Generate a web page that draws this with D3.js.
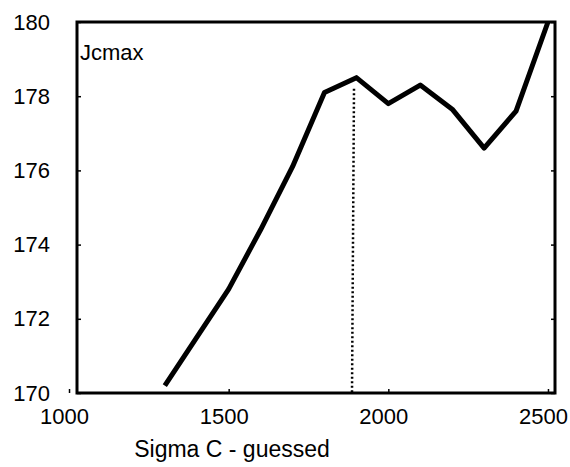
<!DOCTYPE html>
<html>
<head>
<meta charset="utf-8">
<script src="https://cdn.jsdelivr.net/npm/d3@7"></script>
<style>
  html, body { margin: 0; padding: 0; background: #fff; }
  svg text { font-family: Arial, "Liberation Sans", sans-serif; fill: #000; }
</style>
</head>
<body>
<div id="chart"></div>
<script>
// Sigma C guesses and the resulting Jcmax
const sigmaC = [1300, 1400, 1500, 1600, 1700, 1800, 1900, 2000, 2100, 2200, 2300, 2400, 2500];
const jcmax = [170.2, 171.5, 172.8, 174.4, 176.1, 178.1, 178.5, 177.8, 178.3, 177.65, 176.6, 177.6, 180.0];
const xTicks = [1000, 1500, 2000, 2500];
const yTicks = [170, 172, 174, 176, 178, 180];
// best guess marker
const bestSigma = [1900];
const bestTop = 178.2;

const width = 570, height = 467;
const frame = { left: 77, top: 22, right: 555, bottom: 393 };

const svg = d3.select('#chart').append('svg')
    .attr('width', width)
    .attr('height', height);

const x = d3.scaleLinear()
    .domain([1025, 2522])
    .range([frame.left, frame.right]);

const y = d3.scaleLinear()
    .domain([170, 180])
    .range([frame.bottom, frame.top]);

// x axis, ticks pointing inward
const xAxis = svg.append('g')
    .attr('transform', `translate(0,${frame.bottom})`)
    .call(d3.axisBottom(x).tickValues(xTicks).tickFormat(d3.format('d'))
        .tickSizeInner(-4).tickSizeOuter(0).tickPadding(15));
xAxis.select('.domain').remove();
xAxis.selectAll('line').attr('stroke', '#000').attr('stroke-width', 1.5);
xAxis.selectAll('text')
    .attr('dx', -5)
    .style('font-size', '22px');

// y axis
const yAxis = svg.append('g')
    .attr('transform', `translate(${frame.left},0)`)
    .call(d3.axisLeft(y).tickValues(yTicks).tickSizeInner(-4).tickSizeOuter(0).tickPadding(27));
yAxis.select('.domain').remove();
yAxis.selectAll('line').attr('stroke', '#000').attr('stroke-width', 1.5);
yAxis.selectAll('text').style('font-size', '22px');

// inward ticks on the right side too
svg.append('g')
    .attr('transform', `translate(${frame.right},0)`)
    .call(d3.axisRight(y).tickValues(yTicks).tickSizeInner(-4).tickSizeOuter(0).tickFormat(''))
    .call(g => g.select('.domain').remove())
    .selectAll('line').attr('stroke', '#000').attr('stroke-width', 1.5);

// dotted marker at the best guess
svg.append('g')
    .selectAll('line')
    .data(bestSigma)
    .join('line')
    .attr('x1', d => Math.round(x(d)) - 2)
    .attr('x2', d => Math.round(x(d)) - 4)
    .attr('y1', y(bestTop))
    .attr('y2', y(170))
    .attr('stroke', '#000')
    .attr('stroke-width', 2.5)
    .attr('stroke-dasharray', '2,2.5');

// main line
const line = d3.line()
    .x((d, i) => x(sigmaC[i]))
    .y(d => y(d));

svg.append('path')
    .datum(jcmax)
    .attr('fill', 'none')
    .attr('stroke', '#000')
    .attr('stroke-width', 5)
    .attr('stroke-linejoin', 'round')
    .attr('d', line);

// plot frame
svg.append('rect')
    .attr('x', frame.left)
    .attr('y', frame.top)
    .attr('width', frame.right - frame.left)
    .attr('height', frame.bottom - frame.top)
    .attr('fill', 'none')
    .attr('stroke', '#000')
    .attr('stroke-width', 3);

// labels
svg.append('text')
    .attr('x', 80)
    .attr('y', 60)
    .style('font-size', '22px')
    .text('Jcmax');

svg.append('text')
    .attr('x', 232)
    .attr('y', 457)
    .attr('text-anchor', 'middle')
    .style('font-size', '23px')
    .text('Sigma C - guessed');
</script>
</body>
</html>
